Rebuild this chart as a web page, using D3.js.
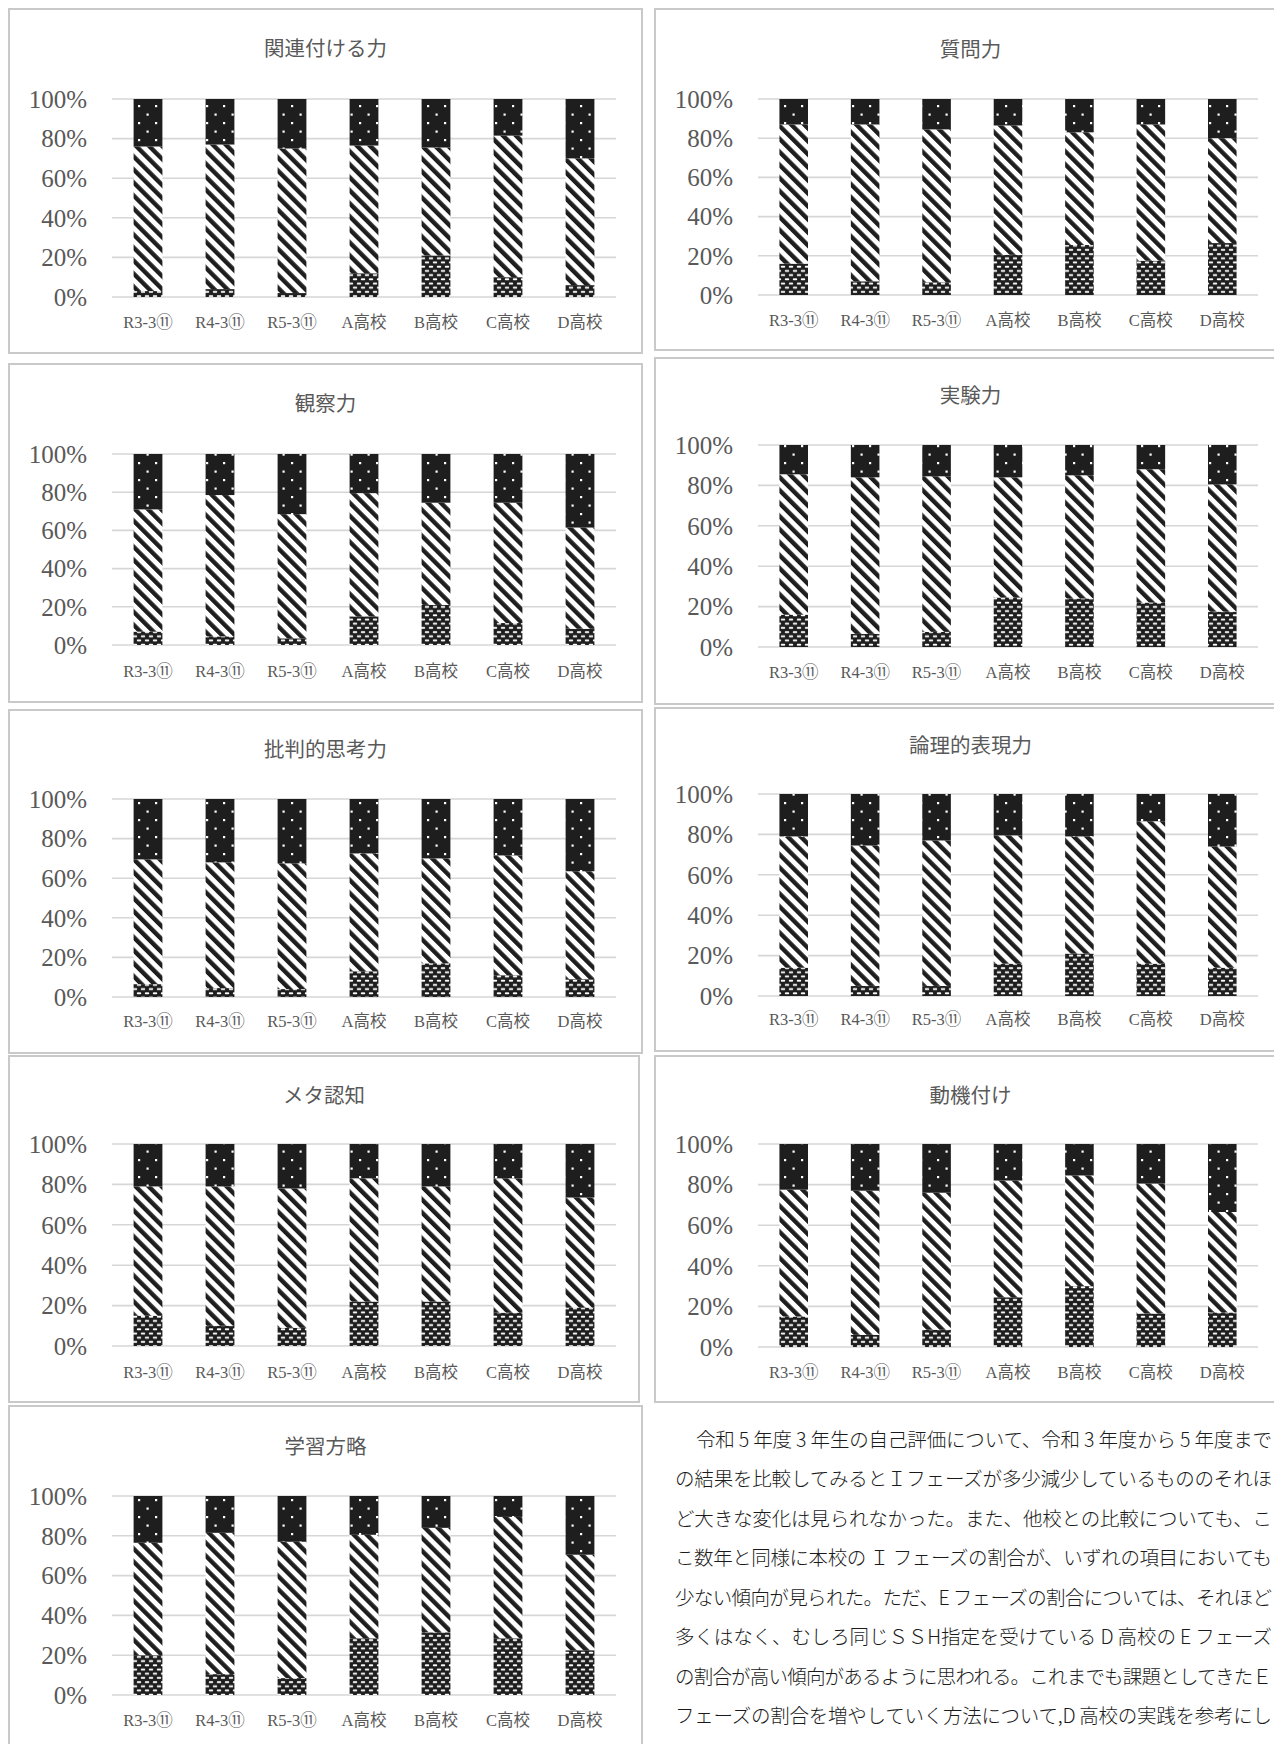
<!DOCTYPE html>
<html lang="ja">
<head>
<meta charset="utf-8">
<script src="https://cdn.jsdelivr.net/npm/d3@7"></script>
<style>
  html, body { margin: 0; padding: 0; background: #fff; }
  svg { display: block; }
</style>
</head>
<body>
<script>
// Categories and axis ticks shared by every panel
const categories = ["R3-3⑪", "R4-3⑪", "R5-3⑪", "A高校", "B高校", "C高校", "D高校"];
const yTicks = [0, 20, 40, 60, 80, 100];
const yTickLabels = ["0%", "20%", "40%", "60%", "80%", "100%"];

// Panel titles
const chartTitles = ["関連付ける力", "質問力", "観察力", "実験力", "批判的思考力", "論理的表現力", "メタ認知", "動機付け", "学習方略"];

// Share (%) of each phase: I (bottom), C (middle), E (top)
const relatingI = [3, 4, 2, 12, 21, 10, 6];
const relatingC = [73, 73, 73, 64.5, 54.5, 71.5, 64];
const relatingE = [24, 23, 25, 23.5, 24.5, 18.5, 30];

const questioningI = [16, 7, 6.5, 20.5, 25.5, 17.5, 26.5];
const questioningC = [71, 80, 78, 66, 57.5, 69.5, 53.5];
const questioningE = [13, 13, 15.5, 13.5, 17, 13, 20];

const observingI = [7, 4.5, 3.5, 15, 21, 11.5, 8.5];
const observingC = [64, 74, 65, 64.5, 53.5, 63, 53];
const observingE = [29, 21.5, 31.5, 20.5, 25.5, 25.5, 38.5];

const experimentingI = [16, 6.5, 7.5, 24.5, 24, 22, 17.5];
const experimentingC = [69.5, 77.5, 77, 59.5, 61, 66, 63];
const experimentingE = [14.5, 16, 15.5, 16, 15, 12, 19.5];

const criticalI = [6.5, 4.5, 4, 13, 17, 11, 9];
const criticalC = [63, 63.5, 63.5, 59.5, 53, 60.5, 54.5];
const criticalE = [30.5, 32, 32.5, 27.5, 30, 28.5, 36.5];

const expressionI = [14, 5, 5, 16, 21, 16, 14];
const expressionC = [65, 69.5, 72, 63.5, 58, 70.5, 60];
const expressionE = [21, 25.5, 23, 20.5, 21, 13.5, 26];

const metacognitionI = [15, 10, 9, 22, 22, 16.5, 19];
const metacognitionC = [64, 69, 69, 61, 57, 66.5, 54.5];
const metacognitionE = [21, 21, 22, 17, 21, 17, 26.5];

const motivationI = [15, 6, 8.5, 24.5, 30, 16.5, 17];
const motivationC = [62.5, 71, 67.5, 57.5, 54.5, 64, 49.5];
const motivationE = [22.5, 23, 24, 18, 15.5, 19.5, 33.5];

const strategyI = [20, 10.5, 8.5, 28.5, 31.5, 28.5, 22.5];
const strategyC = [56.5, 71, 68.5, 52, 52.5, 61, 48];
const strategyE = [23.5, 18.5, 23, 19.5, 16, 10.5, 29.5];

const phaseKeys = ["I", "C", "E"];
const chartSeries = [
  [relatingI, relatingC, relatingE],
  [questioningI, questioningC, questioningE],
  [observingI, observingC, observingE],
  [experimentingI, experimentingC, experimentingE],
  [criticalI, criticalC, criticalE],
  [expressionI, expressionC, expressionE],
  [metacognitionI, metacognitionC, metacognitionE],
  [motivationI, motivationC, motivationE],
  [strategyI, strategyC, strategyE]
];

// Commentary paragraph, one entry per printed line
const paragraphLines = [
  "令和 5 年度 3 年生の自己評価について、令和 3 年度から 5 年度まで",
  "の結果を比較してみるとＩフェーズが多少減少しているもののそれほ",
  "ど大きな変化は見られなかった。また、他校との比較についても、こ",
  "こ数年と同様に本校の Ｉ フェーズの割合が、いずれの項目においても",
  "少ない傾向が見られた。ただ、E フェーズの割合については、それほど",
  "多くはなく、むしろ同じＳＳH指定を受けている D 高校の E フェーズ",
  "の割合が高い傾向があるように思われる。これまでも課題としてきたＥ",
  "フェーズの割合を増やしていく方法について,D 高校の実践を参考にし",
  "ながら探っていくことが必要であると感じている。"
];

// Panel geometry: frame box, title y, 100% / 0% gridline y, category label y, plot x-range
const L = { fx0: 9, fx1: 642, px0: 112, px1: 616 };
const R = { fx0: 655, fx1: 1286, px0: 758, px1: 1258 };
const panels = [
  { ...L, fy0: 9,    fy1: 353,  ty: 47,   y100: 99,   y0: 297,  ly: 322 },
  { ...R, fy0: 9,    fy1: 350,  ty: 48,   y100: 99,   y0: 295,  ly: 320 },
  { ...L, fy0: 364,  fy1: 702,  ty: 402,  y100: 454,  y0: 645,  ly: 671 },
  { ...R, fy0: 358,  fy1: 704,  ty: 394,  y100: 445,  y0: 647,  ly: 672 },
  { ...L, fy0: 710,  fy1: 1053, ty: 748,  y100: 799,  y0: 997,  ly: 1021 },
  { ...R, fy0: 708,  fy1: 1051, ty: 744,  y100: 794,  y0: 996,  ly: 1019 },
  { ...L, fx1: 639, fy0: 1056, fy1: 1402, ty: 1094, y100: 1144, y0: 1346, ly: 1372 },
  { ...R, fy0: 1056, fy1: 1402, ty: 1094, y100: 1144, y0: 1347, ly: 1372 },
  { ...L, fy0: 1406, fy1: 1770, ty: 1445, y100: 1496, y0: 1695, ly: 1720 }
];

const W = 1274, H = 1744;
const TEXT_GREY = "#595959";
const INK = "#1e1e1e";

const svg = d3.select("body").append("svg")
  .attr("width", W).attr("height", H)
  .attr("viewBox", `0 0 ${W} ${H}`);

svg.append("rect").attr("width", W).attr("height", H).attr("fill", "#fff");

// Fill patterns for the three phases
const defs = svg.append("defs");

// I: black with staggered white dashes
const pI = defs.append("pattern").attr("id", "fillI")
  .attr("patternUnits", "userSpaceOnUse").attr("width", 8).attr("height", 8.4);
pI.append("rect").attr("width", 8).attr("height", 8.4).attr("fill", INK);
[[0.8, 1.2], [4.8, 5.4], [-3.2, 5.4]].forEach(([x, y]) => {
  pI.append("rect").attr("x", x).attr("y", y).attr("width", 4.4).attr("height", 1.8)
    .attr("rx", 0.8).attr("fill", "#fff");
});

// C: wide downward diagonal stripes
const pC = defs.append("pattern").attr("id", "fillC")
  .attr("patternUnits", "userSpaceOnUse").attr("width", 9.2).attr("height", 9.2)
  .attr("patternTransform", "rotate(-45)");
pC.append("rect").attr("width", 9.2).attr("height", 9.2).attr("fill", "#fff");
pC.append("rect").attr("x", 0).attr("width", 4.4).attr("height", 9.2).attr("fill", INK);

// E: black with sparse white dots
const pE = defs.append("pattern").attr("id", "fillE")
  .attr("patternUnits", "userSpaceOnUse").attr("width", 17).attr("height", 17);
pE.append("rect").attr("width", 17).attr("height", 17).attr("fill", INK);
[[2, 3], [10.5, 11.5]].forEach(([x, y]) => {
  pE.append("rect").attr("x", x).attr("y", y).attr("width", 2.2).attr("height", 2.2).attr("fill", "#fff");
});

const stack = d3.stack().keys(phaseKeys);

panels.forEach((p, k) => {
  const g = svg.append("g");
  const [sI, sC, sE] = chartSeries[k];
  const rows = categories.map((c, i) => ({ cat: c, I: sI[i], C: sC[i], E: sE[i] }));

  // frame
  g.append("rect")
    .attr("x", p.fx0).attr("y", p.fy0)
    .attr("width", p.fx1 - p.fx0).attr("height", p.fy1 - p.fy0)
    .attr("fill", "#fff").attr("stroke", "#c9c9c9").attr("stroke-width", 2);

  // title, centred on the frame
  g.append("text")
    .attr("x", (p.fx0 + p.fx1) / 2).attr("y", p.ty)
    .attr("text-anchor", "middle").attr("dominant-baseline", "central")
    .attr("font-family", "'Noto Sans CJK JP', sans-serif")
    .attr("font-size", 20.5).attr("fill", TEXT_GREY)
    .text(chartTitles[k]);

  const x = d3.scaleBand().domain(categories)
    .range([p.px0, p.px1]).paddingInner(0.6).paddingOuter(0.3);
  const y = d3.scaleLinear().domain([0, 100]).range([p.y0, p.y100]);

  // gridlines
  g.append("g").selectAll("line").data(yTicks).join("line")
    .attr("x1", p.px0).attr("x2", p.px1)
    .attr("y1", d => y(d)).attr("y2", d => y(d))
    .attr("stroke", "#d6d6d6").attr("stroke-width", 1.6);

  // y axis labels
  const yAxis = d3.axisLeft(y).tickValues(yTicks)
    .tickFormat((d, i) => yTickLabels[i]).tickSize(0).tickPadding(25);
  const ya = g.append("g").attr("transform", `translate(${p.px0},0)`).call(yAxis);
  ya.attr("font-family", null).attr("font-size", null);
  ya.select(".domain").remove();
  ya.selectAll("text")
    .attr("font-family", "'Liberation Serif', serif")
    .attr("font-size", 25).attr("fill", TEXT_GREY).attr("dy", "0.33em");

  // stacked bars
  const layers = stack(rows);
  g.append("g").selectAll("g").data(layers).join("g")
    .attr("fill", d => `url(#fill${d.key})`)
    .selectAll("rect").data(d => d).join("rect")
    .attr("x", d => x(d.data.cat))
    .attr("width", x.bandwidth())
    .attr("y", d => y(d[1]))
    .attr("height", d => y(d[0]) - y(d[1]));

  // category labels
  const xAxis = d3.axisBottom(x).tickSize(0).tickPadding(0);
  const xa = g.append("g").attr("transform", `translate(0,${p.ly})`).call(xAxis);
  xa.attr("font-family", null).attr("font-size", null);
  xa.select(".domain").remove();
  xa.selectAll("text")
    .attr("y", 0).attr("dy", "0.35em")
    .attr("font-family", "'Liberation Serif', 'Noto Sans CJK JP', serif")
    .attr("font-size", 16.5).attr("fill", TEXT_GREY);
});

// commentary paragraph in the lower right
const para = svg.append("g")
  .attr("font-family", "'Noto Sans CJK JP', sans-serif")
  .attr("font-weight", 300)
  .attr("font-size", 19.5).attr("fill", "#1a1a1a");
const paraTop = 1438, lineGap = 39.5, paraLeft = 675, paraRight = 1272;
paragraphLines.forEach((line, i) => {
  const indent = i === 0 ? 21 : 0;
  const t = para.append("text")
    .attr("x", paraLeft + indent)
    .attr("y", paraTop + i * lineGap)
    .attr("dominant-baseline", "central")
    .text(line);
  if (i < paragraphLines.length - 1) {
    t.attr("textLength", paraRight - paraLeft - indent).attr("lengthAdjust", "spacing");
  }
});
</script>
</body>
</html>
